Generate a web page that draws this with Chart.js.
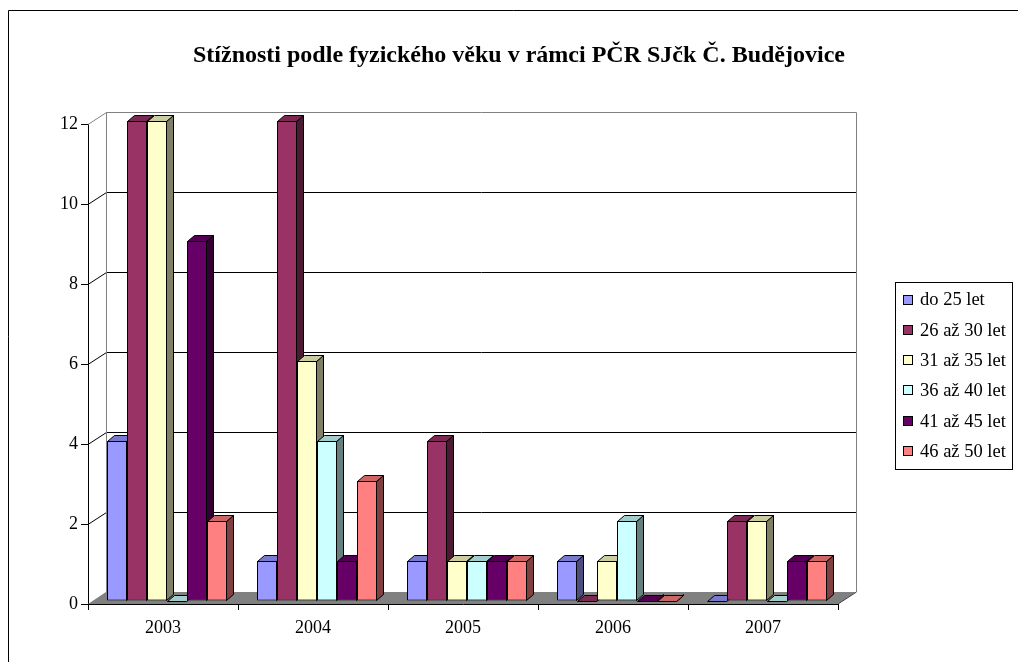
<!DOCTYPE html>
<html><head><meta charset="utf-8">
<script src="https://cdn.jsdelivr.net/npm/chart.js@4"></script>
<style>html,body{margin:0;padding:0;background:#fff}canvas{display:block}</style>
</head><body>
<canvas id="c" width="1018" height="662"></canvas>
<script>
const chartTitle = 'Stížnosti podle fyzického věku v rámci PČR SJčk Č. Budějovice';
const categories = ['2003', '2004', '2005', '2006', '2007'];
const seriesNames = ['do 25 let', '26 až 30 let', '31 až 35 let', '36 až 40 let', '41 až 45 let', '46 až 50 let'];
const do25 = [4, 1, 1, 1, 0];
const s26to30 = [12, 12, 4, 0, 2];
const s31to35 = [12, 6, 1, 1, 2];
const s36to40 = [0, 4, 1, 2, 0];
const s41to45 = [9, 1, 1, 0, 1];
const s46to50 = [2, 3, 1, 0, 1];
const yTicks = [0, 2, 4, 6, 8, 10, 12];
const frontColors = ['#9999FF', '#993366', '#FFFFCC', '#CCFFFF', '#660066', '#FF8080'];

const seriesValues = [do25, s26to30, s31to35, s36to40, s41to45, s46to50];
const WDX = 18, WDY = -12;      // back wall depth offset
const BSX = 4, BSY = -3;        // bar plane offset
const BDX = 7, BDY = -6;        // bar depth

function shade(hex, f) {
  const n = parseInt(hex.slice(1), 16);
  const r = Math.round(((n >> 16) & 255) * f), g = Math.round(((n >> 8) & 255) * f), b = Math.round((n & 255) * f);
  return `rgb(${r},${g},${b})`;
}
function line(ctx, x1, y1, x2, y2) { ctx.beginPath(); ctx.moveTo(x1, y1); ctx.lineTo(x2, y2); ctx.stroke(); }
function poly(ctx, pts, fill) {
  ctx.beginPath(); ctx.moveTo(pts[0][0], pts[0][1]);
  for (let i = 1; i < pts.length; i++) ctx.lineTo(pts[i][0], pts[i][1]);
  ctx.closePath(); ctx.fillStyle = fill; ctx.fill(); ctx.stroke();
}

const threeD = {
  id: 'threeD',
  beforeDatasetsDraw(chart) {
    const ctx = chart.ctx, a = chart.chartArea, ys = chart.scales.y;
    const L = a.left, R = a.right, B = a.bottom;
    ctx.save();
    // floor
    ctx.fillStyle = '#808080';
    ctx.beginPath(); ctx.moveTo(L, B); ctx.lineTo(R, B); ctx.lineTo(R + WDX, B + WDY); ctx.lineTo(L + WDX, B + WDY); ctx.closePath(); ctx.fill();
    ctx.lineWidth = 1;
    const yTop = Math.round(ys.getPixelForValue(ys.max)) + 0.5;
    // gridlines on back wall and side wall
    yTicks.forEach(v => {
      if (v === 0) return;
      const yf = Math.round(ys.getPixelForValue(v)) + 0.5;
      const yb = yf + WDY;
      ctx.strokeStyle = v === ys.max ? '#808080' : '#000';
      line(ctx, L + WDX + 0.5, yb, R + WDX + 0.5, yb);
      line(ctx, L, yf, L + WDX + 0.5, yb);
    });
    // back wall verticals
    ctx.strokeStyle = '#808080';
    line(ctx, L + WDX + 0.5, yTop + WDY, L + WDX + 0.5, B + WDY);
    line(ctx, R + WDX + 0.5, yTop + WDY, R + WDX + 0.5, B + WDY);
    ctx.strokeStyle = '#404040';
    line(ctx, R, B, R + WDX + 0.5, B + WDY);
    ctx.restore();

    // bar plane
    ctx.save();
    ctx.translate(BSX, BSY);
    ctx.lineWidth = 1;
    ctx.strokeStyle = '#000';
    ctx.lineJoin = 'miter';
    const n = chart.data.labels.length;
    for (let c = 0; c < n; c++) {
      chart.data.datasets.forEach((ds, d) => {
        const bar = chart.getDatasetMeta(d).data[c];
        if (!bar) return;
        const p = bar.getProps(['x', 'y', 'base', 'width'], true);
        const left = Math.round(p.x - p.width / 2) + 0.5, right = Math.round(p.x + p.width / 2) - 0.5;
        const top = Math.round(p.y) + 0.5, base = Math.round(p.base) - 0.5;
        const col = frontColors[d];
        poly(ctx, [[right, top], [right + BDX, top + BDY], [right + BDX, base + BDY], [right, base]], shade(col, 0.5));
        poly(ctx, [[left, top], [left + BDX, top + BDY], [right + BDX, top + BDY], [right, top]], shade(col, 0.8));
      });
    }
  },
  afterDatasetsDraw(chart) {
    chart.ctx.restore();
  },
  afterDraw(chart) {
    const ctx = chart.ctx;
    ctx.save();
    // outer border (top and left)
    ctx.strokeStyle = '#000'; ctx.lineWidth = 1;
    line(ctx, 8.5, 10.5, 1018, 10.5);
    line(ctx, 8.5, 10.5, 8.5, 662);
    // title
    ctx.fillStyle = '#000';
    ctx.font = 'bold 24px "Liberation Serif"';
    ctx.textAlign = 'center'; ctx.textBaseline = 'alphabetic';
    ctx.fillText(chartTitle, 519, 62);
    // legend
    const lx = 895.5, ly = 282.5, lw = 117, lh = 187;
    ctx.strokeStyle = '#000';
    ctx.strokeRect(lx, ly, lw, lh);
    ctx.font = '18.5px "Liberation Serif"';
    ctx.textAlign = 'left'; ctx.textBaseline = 'middle';
    chart.data.datasets.forEach((ds, i) => {
      const cy = 299.5 + i * 30.3;
      ctx.fillStyle = ds.backgroundColor;
      ctx.fillRect(903.5, Math.round(cy) - 4.5, 9, 9);
      ctx.strokeRect(903.5, Math.round(cy) - 4.5, 9, 9);
      ctx.fillStyle = '#000';
      ctx.fillText(ds.label, 920, cy + 1);
    });
    ctx.restore();
  }
};

Chart.defaults.font.family = '"Liberation Serif", "Times New Roman", serif';
Chart.defaults.color = '#000';

new Chart(document.getElementById('c'), {
  type: 'bar',
  data: {
    labels: categories,
    datasets: seriesNames.map((name, i) => ({
      label: name,
      data: seriesValues[i],
      backgroundColor: frontColors[i],
      borderColor: '#000',
      borderWidth: 1,
      borderSkipped: false,
      categoryPercentage: 0.8,
      barPercentage: 1.0,
      clip: false
    }))
  },
  options: {
    responsive: false,
    animation: false,
    devicePixelRatio: 1,
    layout: { padding: { top: 124, right: 180, bottom: 0, left: 0 } },
    plugins: { legend: { display: false }, title: { display: false }, tooltip: { enabled: false } },
    scales: {
      x: {
        grid: { offset: true, drawOnChartArea: false, tickLength: 6, color: '#000' },
        border: { color: '#000' },
        ticks: { font: { size: 18 }, padding: 7, color: '#000', maxRotation: 0 },
        afterFit(s) { s.height = 58; }
      },
      y: {
        min: 0, max: 12,
        grid: { drawOnChartArea: false, tickLength: 7, color: '#000' },
        border: { color: '#000' },
        ticks: { stepSize: 2, font: { size: 18 }, padding: 3, color: '#000' },
        afterFit(s) { s.width = 88; }
      }
    }
  },
  plugins: [threeD]
});
</script>
</body></html>
